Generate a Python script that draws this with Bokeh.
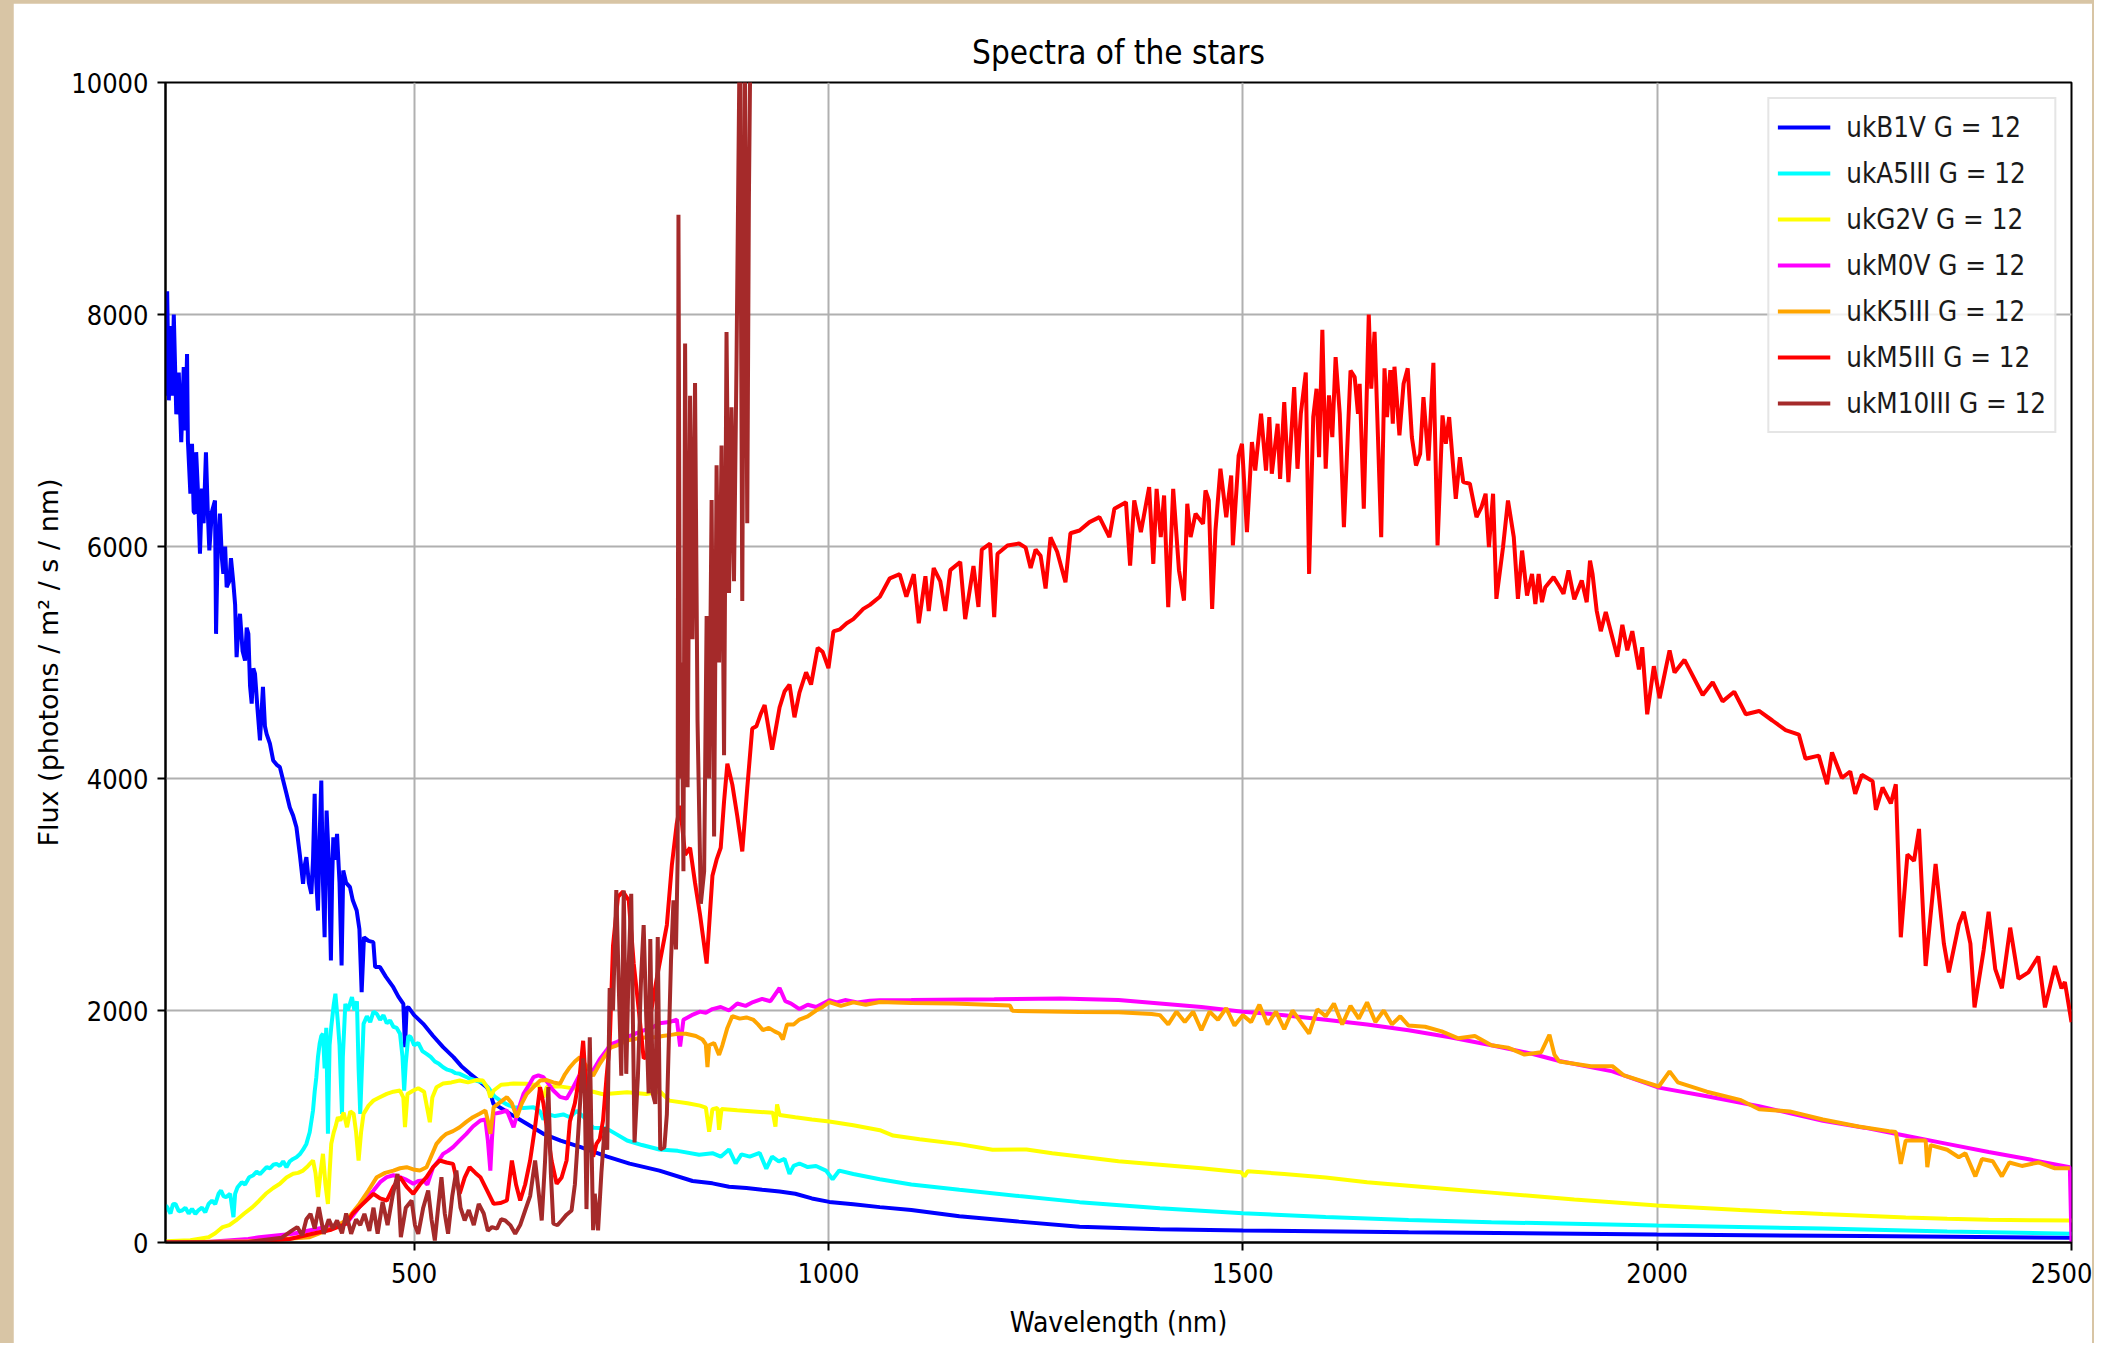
from bokeh.plotting import figure
from bokeh.models import Range1d, FixedTicker
from bokeh.layouts import column
from bokeh.embed import file_html
from bokeh.resources import INLINE

# ---------------- data (wavelength nm, flux photons / m2 / s / nm) ----------------
labels = ["ukB1V G = 12", "ukA5III G = 12", "ukG2V G = 12", "ukM0V G = 12",
          "ukK5III G = 12", "ukM5III G = 12", "ukM10III G = 12"]
colors = ["blue", "cyan", "yellow", "magenta", "orange", "red", "brown"]

B1V = [(200, 7300), (202, 8200), (204, 7260), (206, 7900), (208, 7300), (210, 8000), (213, 7140), (216, 7500),
       (219, 6900), (222, 7546), (224, 7000), (226, 7660), (227, 6914), (230, 6456), (232, 6885), (234, 6300),
       (236, 6284), (237, 6813), (239, 6500), (241.6, 5937), (244, 6500), (246, 6200), (248.8, 6813), (251, 6300),
       (252.9, 5966), (256, 6300), (259.7, 6397), (261, 5247), (263, 6000), (265.7, 6284), (268, 5900), (269.8, 5764),
       (272, 6000), (273.8, 5649), (277, 5700), (279, 5900), (281.8, 5693), (284, 5500), (285.8, 5046), (288, 5300),
       (289.9, 5420), (293, 5100), (296, 5017), (298, 5300), (300, 5247), (302, 4800), (304, 4645), (306, 4950),
       (308, 4902), (311, 4600), (314, 4328), (317.6, 4790), (320, 4450), (322, 4385), (326, 4300), (330, 4155),
       (334, 4120), (338, 4098), (342, 3983), (346, 3868), (350, 3750), (354, 3680), (358, 3580), (362, 3350),
       (366, 3092), (368, 3250), (370, 3322), (373, 3100), (376, 3006), (378, 3300), (380, 3868), (382, 3100),
       (384, 2862), (386, 3500), (388, 3983), (390, 3100), (392, 2632), (393, 3200), (394.4, 3724), (397, 3300),
       (399.6, 2431), (401, 3100), (402.5, 3494), (405, 3300), (407, 3523), (410, 3100), (412.5, 2388), (414.5, 3207),
       (418, 3100), (422.6, 3063), (426, 2950), (430.7, 2862), (434, 2700), (436.7, 2158), (439.5, 2632), (445, 2600),
       (450.8, 2589), (453, 2374), (458.8, 2374), (466, 2290), (474.9, 2201), (481, 2120), (487, 2057), (489, 1684),
       (491, 2020), (493, 2029), (500, 1960), (511, 1885), (523, 1780), (535, 1684), (547.5, 1598), (557, 1520),
       (567.6, 1454), (577, 1400), (587.7, 1339), (592, 1290), (595.7, 1195), (600, 1180), (616, 1109), (636, 1023),
       (656, 937), (676.8, 879), (701, 822), (733, 741), (760, 680), (796, 620), (836, 530), (860, 510), (880, 480),
       (901, 470), (920, 455), (941, 440), (960, 420), (980, 380), (1001, 350), (1030, 330), (1062, 305), (1100, 280),
       (1158, 227), (1230, 180), (1303, 136), (1400, 115), (1500, 103), (1700, 88), (2000, 69), (2250, 55), (2500, 40)]

A5III = [(200, 320), (202, 305), (206, 250), (209, 330), (212, 333), (216, 270), (220, 276), (224, 300), (228, 250),
         (232, 290), (236, 247), (240, 280), (244, 300), (248, 260), (252, 333), (256, 360), (260, 330), (264, 420),
         (267, 448), (270, 400), (273, 391), (278, 420), (282, 218), (284, 420), (287, 477), (292, 520), (296, 500),
         (301, 563), (306, 580), (310, 610), (314, 590), (318, 620), (322, 650), (326, 640), (330, 670), (334, 678),
         (338, 660), (342, 700), (346, 649), (350, 700), (354, 720), (358, 735), (362, 760), (366, 800), (370, 850),
         (374, 950), (378, 1138), (380, 1300), (382, 1425), (384, 1600), (386, 1713), (388, 1780), (390, 1799),
         (392, 1500), (394, 1850), (396, 937), (398, 1700), (400, 1857), (403, 2050), (405, 2144), (408, 1900),
         (410, 1700), (412, 1300), (413, 1109), (414, 1600), (417, 2057), (420, 2000), (425, 2115), (428, 2000),
         (431, 2080), (433, 1500), (435, 1109), (437, 1500), (439, 1885), (443, 1950), (447, 1900), (451, 1990),
         (455, 1971), (459, 1920), (463, 1960), (467, 1890), (471, 1914), (475, 1860), (479, 1850), (483, 1799),
         (486, 1600), (488, 1310), (490, 1550), (493, 1780), (496, 1770), (500, 1700), (505, 1720), (510, 1650),
         (515, 1626), (520, 1600), (525, 1560), (530, 1540), (535, 1511), (540, 1490), (545, 1480), (550, 1460),
         (555, 1454), (565, 1420), (575, 1395), (583, 1382), (590, 1330), (597, 1260), (604, 1224), (612, 1190),
         (620, 1166), (632, 1160), (644, 1166), (652, 1130), (656, 1060), (660, 1109), (670, 1090), (680, 1104),
         (688, 1080), (696, 1135), (705, 1080), (716, 990), (732, 984), (745, 930), (757, 879), (775, 840),
         (796, 802), (818, 790), (844, 757), (860, 770), (870, 740), (880, 802), (888, 681), (895, 760), (905, 740),
         (917, 772), (925, 636), (932, 740), (940, 700), (947, 720), (953, 591), (958, 660), (965, 681), (975, 650),
         (985, 660), (997, 620), (1005, 545), (1013, 620), (1030, 590), (1062, 545), (1100, 500), (1158, 454),
         (1230, 400), (1303, 348), (1400, 295), (1500, 253), (1600, 220), (1700, 195), (1800, 175), (2000, 147),
         (2200, 120), (2350, 95), (2500, 75)]

G2V = [(200, 10), (230, 20), (252, 46), (260, 80), (269, 133), (277, 150), (285, 190), (295, 250), (305, 305),
       (313, 360), (321, 420), (330, 470), (338, 506), (346, 560), (354, 592), (360, 600), (366, 620), (372, 660),
       (378, 707), (381, 600), (384, 391), (387, 600), (390, 764), (393, 500), (396, 333), (398, 600), (400, 850),
       (403, 950), (405, 994), (408, 1080), (411, 1052), (415, 1120), (419, 994), (423, 1130), (427, 1109),
       (430, 950), (433, 707), (436, 950), (439, 1109), (445, 1180), (451, 1224), (458, 1250), (467, 1281),
       (475, 1300), (483, 1310), (487, 1250), (489, 994), (492, 1280), (499, 1310), (505, 1330), (512, 1300),
       (516, 1150), (519, 1037), (522, 1250), (527, 1339), (535, 1370), (545, 1380), (555, 1396), (565, 1380),
       (575, 1400), (583, 1396), (589, 1330), (592, 1250), (596, 1310), (605, 1360), (620, 1370), (636, 1368),
       (650, 1355), (656, 1250), (660, 1340), (676, 1346), (700, 1320), (716, 1300), (728, 1278), (757, 1296),
       (780, 1280), (797, 1300), (808, 1223), (830, 1200), (845, 1180), (852, 1163), (856, 956), (860, 1150),
       (866, 1160), (868, 971), (871, 1150), (890, 1140), (910, 1130), (933, 1118), (936, 999), (938, 1190),
       (941, 1100), (960, 1080), (980, 1060), (1001, 1043), (1030, 1010), (1062, 968), (1078, 922), (1110, 890),
       (1158, 848), (1198, 800), (1239, 802), (1270, 770), (1303, 742), (1350, 700), (1400, 670), (1450, 640),
       (1498, 606), (1502, 570), (1506, 615), (1550, 590), (1600, 560), (1650, 520), (1700, 490), (1750, 460),
       (1800, 430), (1850, 400), (1900, 370), (1950, 345), (2000, 319), (2050, 300), (2100, 280), (2150, 262),
       (2200, 245), (2250, 230), (2300, 215), (2350, 205), (2400, 197), (2450, 192), (2500, 190)]

M0V = [(200, 0), (250, 5), (300, 30), (313, 46), (354, 75), (394, 133), (418, 162), (426, 230), (434, 305),
       (442, 380), (451, 448), (459, 520), (467, 563), (475, 580), (483, 563), (491, 540), (499, 506), (505, 530),
       (511, 535), (516, 500), (523, 649), (529, 700), (535, 764), (541, 790), (547, 822), (555, 880), (563, 937),
       (571, 1000), (580, 1052), (586, 1060), (589, 880), (592, 620), (594, 900), (596, 1109), (604, 1120),
       (612, 1138), (620, 994), (626, 1150), (632, 1281), (638, 1350), (644, 1425), (650, 1440), (656, 1425),
       (662, 1370), (668, 1310), (676, 1255), (684, 1240), (692, 1339), (700, 1450), (704, 1497), (710, 1500),
       (716, 1483), (724, 1580), (732, 1655), (737, 1709), (745, 1730), (757, 1770), (767, 1800), (777, 1828),
       (787, 1850), (796, 1891), (808, 1900), (817, 1922), (821, 1690), (825, 1920), (835, 1960), (845, 1990),
       (852, 1980), (860, 2012), (870, 2030), (880, 2000), (890, 2060), (900, 2040), (909, 2073), (920, 2100),
       (930, 2080), (941, 2194), (948, 2080), (955, 2060), (965, 2012), (975, 2050), (985, 2030), (1001, 2088),
       (1010, 2070), (1020, 2090), (1035, 2070), (1050, 2085), (1062, 2088), (1100, 2090), (1200, 2097),
       (1280, 2103), (1350, 2090), (1400, 2060), (1450, 2030), (1500, 1990), (1550, 1960), (1600, 1920),
       (1650, 1880), (1700, 1830), (1750, 1770), (1800, 1700), (1850, 1625), (1882, 1565), (1946, 1475),
       (2002, 1335), (2060, 1260), (2123, 1175), (2200, 1050), (2250, 990), (2300, 920), (2350, 850),
       (2400, 780), (2450, 715), (2498, 650), (2500, 0)]

K5III = [(200, 0), (300, 10), (374, 46), (400, 120), (418, 190), (426, 260), (434, 333), (445, 450), (455, 563),
         (465, 600), (475, 620), (483, 640), (491, 649), (499, 630), (507, 620), (515, 649), (521, 750), (527, 850),
         (533, 900), (539, 937), (547, 960), (555, 994), (563, 1040), (571, 1080), (579, 1110), (586, 1138),
         (589, 1050), (592, 937), (594, 1050), (596, 1166), (604, 1210), (612, 1253), (618, 1200), (624, 1080),
         (630, 1200), (636, 1281), (644, 1340), (652, 1396), (660, 1400), (668, 1380), (676, 1368), (682, 1450),
         (688, 1511), (694, 1560), (700, 1598), (708, 1520), (716, 1437), (724, 1540), (732, 1626), (737, 1679),
         (745, 1700), (757, 1741), (770, 1760), (781, 1770), (792, 1770), (800, 1780), (810, 1790), (818, 1799),
         (828, 1800), (840, 1780), (848, 1750), (852, 1709), (854, 1513), (856, 1700), (862, 1720), (866, 1650),
         (868, 1618), (872, 1700), (878, 1850), (884, 1952), (893, 1930), (901, 1940), (909, 1922), (915, 1880),
         (921, 1831), (928, 1850), (935, 1820), (941, 1800), (945, 1750), (950, 1880), (958, 1880), (965, 1922),
         (975, 1950), (985, 2000), (993, 2030), (1001, 2073), (1015, 2040), (1030, 2070), (1045, 2050),
         (1062, 2073), (1100, 2065), (1150, 2060), (1219, 2043), (1222, 1997), (1303, 1988), (1350, 1985),
         (1390, 1970), (1400, 1960), (1410, 1880), (1420, 1990), (1430, 1900), (1440, 1990), (1450, 1830),
         (1460, 1990), (1470, 1920), (1480, 2020), (1490, 1870), (1500, 1960), (1510, 1900), (1520, 2050),
         (1530, 1880), (1540, 1990), (1550, 1840), (1560, 2000), (1570, 1900), (1580, 1800), (1590, 2010),
         (1600, 1950), (1610, 2060), (1620, 1880), (1630, 2040), (1640, 1930), (1650, 2070), (1660, 1900),
         (1670, 2000), (1680, 1880), (1690, 1950), (1700, 1870), (1720, 1860), (1740, 1820), (1760, 1760),
         (1780, 1780), (1800, 1700), (1820, 1680), (1840, 1620), (1860, 1640), (1870, 1790), (1876, 1620),
         (1882, 1560), (1920, 1520), (1946, 1520), (1960, 1440), (2002, 1345), (2015, 1475), (2025, 1380),
         (2060, 1300), (2100, 1230), (2123, 1148), (2160, 1130), (2200, 1060), (2243, 1000), (2280, 960),
         (2288, 953), (2294, 678), (2300, 880), (2324, 880), (2326, 650), (2330, 840), (2350, 800), (2364, 735),
         (2372, 770), (2384, 570), (2392, 720), (2405, 700), (2416, 570), (2425, 690), (2440, 660), (2460, 690),
         (2480, 640), (2498, 640)]

M5III = [(200, 0), (300, 5), (350, 30), (380, 80), (400, 110), (418, 162), (426, 250), (434, 305), (442, 360),
         (451, 420), (459, 380), (467, 362), (475, 480), (483, 563), (491, 480), (499, 420), (507, 500), (515, 563),
         (523, 650), (531, 707), (539, 690), (547, 678), (555, 420), (561, 560), (567, 649), (574, 600), (580, 563),
         (588, 450), (596, 333), (604, 340), (612, 362), (618, 707), (623, 500), (628, 362), (634, 500), (640, 707),
         (646, 1000), (652, 1339), (656, 1200), (660, 994), (666, 700), (672, 506), (678, 560), (684, 707),
         (688, 1044), (694, 1200), (700, 1450), (704, 1739), (708, 1286), (712, 994), (716, 740), (720, 850),
         (724, 892), (728, 1052), (732, 1407), (736, 1713), (740, 2556), (746, 2979), (752, 3024), (759, 2949),
         (765, 2405), (771, 2012), (777, 1589), (781, 1598), (785, 1951), (793, 2284), (797, 2435), (805, 2737),
         (811, 3251), (817, 3614), (821, 3765), (827, 3342), (833, 3403), (839, 3100), (845, 2828), (853, 2405),
         (860, 3161), (865, 3300), (870, 3403), (874, 3800), (878, 4128), (884, 3947), (890, 3675), (896, 3372),
         (902, 3916), (908, 4430), (913, 4450), (918, 4551), (923, 4634), (932, 4249), (941, 4612), (947, 4750),
         (953, 4810), (959, 4528), (965, 4740), (973, 4916), (979, 4810), (987, 5127), (993, 5092), (1000, 4951),
         (1006, 5268), (1014, 5286), (1022, 5339), (1030, 5374), (1042, 5462), (1050, 5497), (1062, 5567),
         (1074, 5726), (1086, 5761), (1094, 5567), (1103, 5761), (1109, 5339), (1117, 5744), (1121, 5444),
         (1127, 5814), (1135, 5700), (1141, 5444), (1147, 5796), (1159, 5867), (1165, 5374), (1175, 5831),
         (1181, 5479), (1185, 5973), (1195, 6026), (1200, 5391), (1204, 5937), (1216, 6008), (1230, 6026),
         (1238, 5990), (1244, 5814), (1250, 5973), (1256, 5920), (1262, 5638), (1268, 6078), (1276, 5955),
         (1286, 5691), (1292, 6114), (1303, 6138), (1315, 6210), (1327, 6253), (1339, 6081), (1345, 6325),
         (1359, 6382), (1364, 5836), (1369, 6397), (1377, 6124), (1387, 6512), (1392, 5850), (1396, 6497),
         (1401, 6081), (1405, 6440), (1410, 5477), (1416, 6497), (1423, 5793), (1429, 5534), (1433, 6368),
         (1437, 6081), (1443, 6282), (1452, 6196), (1455, 6483), (1459, 6397), (1463, 5462), (1467, 6138),
         (1473, 6670), (1480, 6253), (1486, 6612), (1488, 6009), (1495, 6785), (1499, 6885), (1505, 6124),
         (1511, 6900), (1515, 6655), (1522, 7144), (1528, 6655), (1532, 7116), (1535, 6627), (1542, 7058),
         (1545, 6583), (1550, 7245), (1555, 6555), (1562, 7374), (1566, 6670), (1570, 7144), (1576, 7500),
         (1580, 5764), (1585, 7116), (1589, 7360), (1592, 6770), (1596, 7868), (1600, 6670), (1604, 7303),
         (1608, 6943), (1612, 7632), (1617, 7144), (1622, 6167), (1630, 7517), (1635, 7460), (1639, 7144),
         (1641, 7403), (1646, 6325), (1652, 8000), (1655, 7360), (1659, 7851), (1667, 6081), (1671, 7536),
         (1674, 7116), (1678, 7521), (1681, 7058), (1683, 7550), (1689, 6958), (1694, 7403), (1699, 7536),
         (1704, 6943), (1709, 6698), (1714, 6799), (1718, 7287), (1724, 6741), (1730, 7584), (1735, 6009),
         (1741, 7130), (1745, 6885), (1749, 7116), (1757, 6411), (1762, 6770), (1766, 6555), (1774, 6541),
         (1782, 6253), (1788, 6339), (1793, 6455), (1797, 5994), (1802, 6455), (1806, 5549), (1814, 5994),
         (1820, 6397), (1827, 6081), (1832, 5549), (1837, 5965), (1843, 5578), (1849, 5764), (1853, 5505),
         (1857, 5764), (1861, 5520), (1865, 5649), (1875, 5736), (1882, 5655), (1887, 5592), (1893, 5793),
         (1900, 5545), (1909, 5707), (1915, 5520), (1919, 5879), (1922, 5765), (1927, 5448), (1932, 5270),
         (1938, 5435), (1952, 5050), (1958, 5325), (1964, 5105), (1970, 5270), (1978, 4940), (1982, 5132),
         (1988, 4554), (1996, 4968), (2003, 4692), (2011, 4968), (2015, 5105), (2021, 4913), (2033, 5023),
         (2055, 4720), (2067, 4830), (2079, 4665), (2093, 4748), (2107, 4554), (2123, 4582), (2139, 4500),
         (2155, 4417), (2171, 4379), (2179, 4170), (2195, 4197), (2205, 3950), (2211, 4225), (2223, 4005),
         (2233, 4060), (2239, 3867), (2247, 4032), (2260, 3977), (2264, 3730), (2272, 3922), (2282, 3785),
         (2288, 3950), (2294, 2631), (2302, 3345), (2310, 3290), (2316, 3565), (2324, 2384), (2336, 3263),
         (2346, 2576), (2352, 2329), (2364, 2741), (2370, 2851), (2378, 2576), (2383, 2027), (2394, 2521),
         (2400, 2851), (2408, 2356), (2416, 2191), (2426, 2714), (2436, 2274), (2448, 2329), (2460, 2466),
         (2468, 2027), (2480, 2384), (2488, 2191), (2492, 2246), (2500, 1900)]

M10III = [(200, 0), (300, 5), (340, 40), (352, 100), (359, 133), (365, 60), (370, 200), (375, 247), (380, 120),
          (385, 305), (391, 75), (397, 200), (402, 120), (407, 190), (413, 80), (418, 250), (424, 75), (430, 200),
          (435, 150), (440, 247), (446, 100), (451, 300), (456, 75), (462, 350), (468, 150), (474, 400), (480, 592),
          (484, 46), (490, 300), (497, 362), (501, 150), (505, 75), (511, 300), (517, 448), (521, 200), (525, 17),
          (529, 300), (533, 563), (537, 250), (541, 75), (546, 400), (551, 620), (556, 300), (561, 190), (566, 280),
          (572, 150), (578, 333), (584, 250), (589, 100), (594, 133), (600, 120), (605, 200), (610, 190), (616, 150),
          (622, 75), (628, 150), (634, 276), (640, 400), (646, 707), (650, 450), (654, 190), (658, 700), (662, 1339),
          (665, 600), (668, 162), (673, 150), (678, 190), (684, 240), (690, 276), (694, 500), (698, 937), (702, 1400),
          (704, 1588), (706, 1282), (708, 288), (712, 1770), (714, 900), (716, 106), (718, 420), (722, 104),
          (726, 600), (730, 994), (733, 800), (736, 2193), (740, 2000), (744, 3039), (747, 2200), (750, 1437),
          (753, 3035), (756, 1454), (759, 2400), (762, 3006), (766, 863), (770, 1425), (774, 2300), (777, 2737),
          (780, 1971), (783, 1286), (785, 2616), (788, 1282), (791, 1195), (794, 2633), (797, 802), (802, 822),
          (805, 1104), (810, 2431), (813, 2949), (816, 2526), (818, 3293), (819, 8860), (821, 4000), (823, 5000),
          (825, 3200), (827, 7750), (830, 3925), (833, 7300), (836, 5200), (839, 7410), (842, 4500), (846, 2920),
          (850, 3200), (853, 5400), (856, 4000), (859, 6400), (862, 3500), (865, 6700), (868, 5000), (871, 6870),
          (874, 4200), (877, 7850), (880, 5600), (883, 7200), (886, 5700), (889, 7550), (893, 10500), (896, 5530),
          (899, 10500), (902, 6200), (904, 9000), (906, 10500), (910, 12500)]

series = [B1V, A5III, G2V, M0V, K5III, M5III, M10III]

x_ticks = [500, 1000, 1500, 2000, 2500]
y_ticks = [0, 2000, 4000, 6000, 8000, 10000]

COND = "DejaVu Sans Condensed, Roboto, sans-serif"

# ---------------- figure ----------------
p = figure(width=2079, height=1340, x_range=Range1d(200, 2500), y_range=Range1d(0, 10000),
           output_backend="svg", toolbar_location=None, title="Spectra of the stars",
           min_border_left=152, min_border_right=21, min_border_top=79, min_border_bottom=101)
p.margin = (3, 2, 0, 13)
p.background_fill_color = "white"
p.border_fill_color = "white"
p.outline_line_color = "black"
p.outline_line_width = 2

p.title.align = "center"
p.title.text_font = COND
p.title.text_font_size = "33px"
p.title.text_font_style = "normal"
p.title.text_color = "black"
p.title.standoff = 21

for name, pts, col in zip(labels, series, colors):
    xs = [a for a, b in pts]
    ys = [b for a, b in pts]
    p.line(xs, ys, line_color=col, line_width=4, legend_label=name)

p.xaxis.ticker = FixedTicker(ticks=x_ticks)
p.yaxis.ticker = FixedTicker(ticks=y_ticks)
for ax in (p.xaxis[0], p.yaxis[0]):
    ax.axis_line_color = "black"
    ax.axis_line_width = 2
    ax.major_tick_line_color = "black"
    ax.major_tick_line_width = 2
    ax.major_tick_out = 8
    ax.major_tick_in = 0
    ax.minor_tick_out = 0
    ax.minor_tick_in = 0
    ax.major_label_text_font = COND
    ax.major_label_text_font_size = "27px"
    ax.major_label_text_color = "black"
    ax.axis_label_text_font_style = "normal"
    ax.axis_label_text_color = "black"

p.xaxis.major_label_standoff = 12
p.yaxis.major_label_standoff = 9
p.xaxis.axis_label = "Wavelength (nm)"
p.xaxis.axis_label_text_font = COND
p.xaxis.axis_label_text_font_size = "28px"
p.xaxis.axis_label_standoff = 20
p.yaxis.axis_label = "Flux (photons / m² / s / nm)"
p.yaxis.axis_label_text_font = "DejaVu Sans"
p.yaxis.axis_label_text_font_size = "27px"
p.yaxis.axis_label_standoff = 4

p.xgrid.grid_line_color = "#b0b0b0"
p.ygrid.grid_line_color = "#b0b0b0"
p.xgrid.grid_line_width = 2
p.ygrid.grid_line_width = 2

lg = p.legend[0]
lg.location = "top_right"
lg.margin = 15
lg.padding = 8
lg.spacing = 6
lg.glyph_width = 53
lg.glyph_height = 40
lg.label_height = 40
lg.label_standoff = 16
lg.label_text_font = COND
lg.label_text_font_size = "27.5px"
lg.label_text_color = "#1a1a1a"
lg.border_line_color = "#cccccc"
lg.border_line_width = 2
lg.background_fill_color = "white"
lg.background_fill_alpha = 0.8

layout = column(p, styles={"background-color": "#d8c5a5"})

open("out.html", "w").write(file_html(layout, INLINE))
